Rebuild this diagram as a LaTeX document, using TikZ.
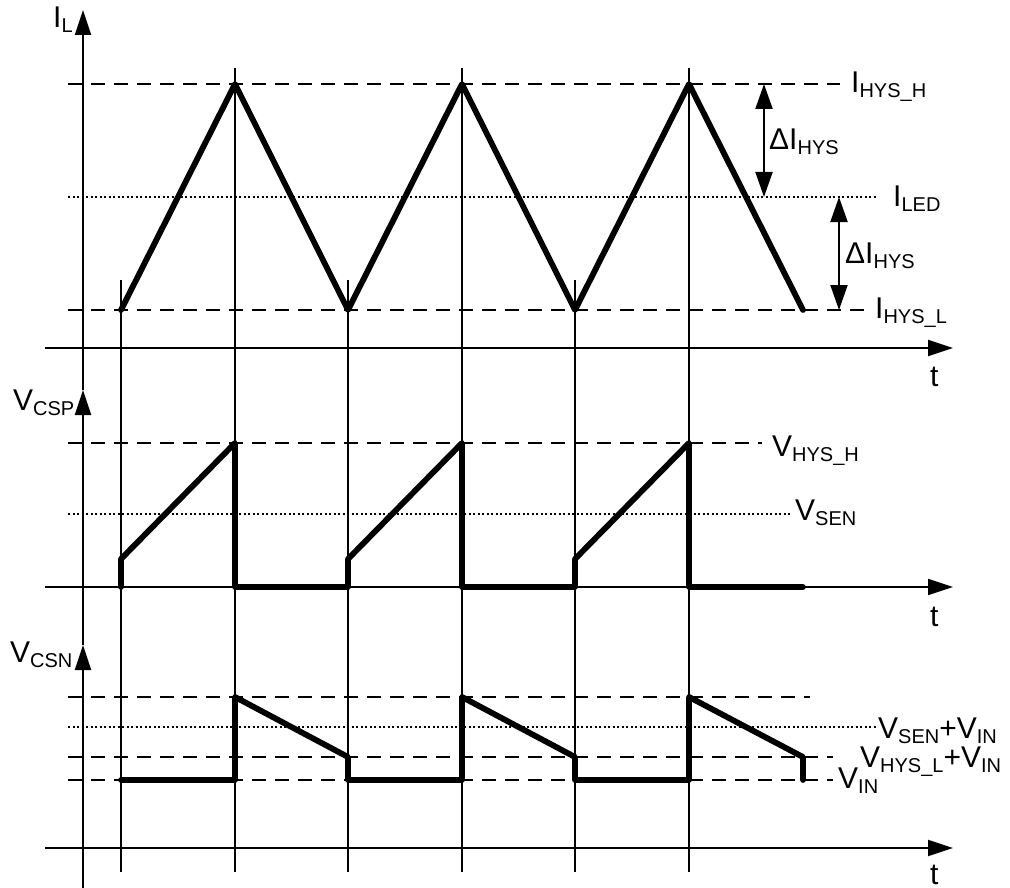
\documentclass[tikz,border=0pt]{standalone}
\usepackage{fontspec}
\setmainfont{Liberation Sans}
\usetikzlibrary{arrows.meta}
\newcommand\lsub[1]{\raisebox{-5pt}{\fontsize{20}{20}\selectfont #1}}
\begin{document}
\begin{tikzpicture}[x=1pt,y=-1pt,
  axis/.style={line width=2.2pt,-{Triangle[length=25pt,width=16pt]}},
  gridline/.style={line width=1.5pt},
  lvl/.style={line width=2pt,dash pattern=on 14pt off 9pt},
  dotl/.style={line width=1.6pt,dash pattern=on 2pt off 2.5pt},
  wave/.style={line width=5.8pt,line join=round,line cap=round},
  lbl/.style={anchor=base west,inner sep=0pt,font=\fontsize{30}{32}\selectfont},
  dimarrow/.style={line width=2pt,{Triangle[length=25pt,width=17pt]}-{Triangle[length=25pt,width=17pt]}}]
\useasboundingbox (0,0) rectangle (1010,888);

% axes coordinates
\coordinate (ilbot) at (83,390);
\coordinate (iltop) at (83,10);
\coordinate (cspbot) at (83,645);
\coordinate (csnbot) at (83,888);
\coordinate (t1a) at (45,348);  \coordinate (t1b) at (953,348);
\coordinate (t2a) at (45,587);  \coordinate (t2b) at (953,587);
\coordinate (t3a) at (45,848);  \coordinate (t3b) at (953,848);

% grid lines
\foreach \x in {121,348,575} \draw[gridline] (\x,280) -- (\x,872);
\foreach \x in {235,462,689} \draw[gridline] (\x,68) -- (\x,872);

% levels
\coordinate (hA) at (68,84);   \coordinate (hB) at (840,84);
\coordinate (ledA) at (68,197); \coordinate (ledB) at (877,197);
\coordinate (lA) at (68,310);  \coordinate (lB) at (865,310);
\draw[lvl] (hA) -- (hB);
\draw[dotl] (ledA) -- (ledB);
\draw[lvl] (lA) -- (lB);
\draw[lvl] (68,443) -- (762,443);
\draw[dotl] (68,514) -- (792,514);
\draw[lvl] (68,697) -- (810,697);
\draw[dotl] (68,727) -- (877,727);
\draw[lvl] (68,757) -- (833,757);
\draw[lvl] (68,780) -- (833,780);

% axes
\draw[axis] (ilbot) -- (iltop);
\draw[axis] (cspbot) -- (ilbot);
\draw[axis] (csnbot) -- (cspbot);
\draw[axis] (t1a) -- (t1b);
\draw[axis] (t2a) -- (t2b);
\draw[axis] (t3a) -- (t3b);

% waveforms
\draw[wave] (121,310) -- (235,84) -- (348,310) -- (462,84) -- (575,310) -- (689,84) -- (803,310);
\draw[wave] (121,587) -- (121,559) -- (235,443) -- (235,587) -- (348,587) -- (348,559) -- (462,443) -- (462,587) -- (575,587) -- (575,559) -- (689,443) -- (689,587) -- (803,587);
\draw[wave] (121,780) -- (235,780) -- (235,697) -- (348,757) -- (348,780) -- (462,780) -- (462,697) -- (575,757) -- (575,780) -- (689,780) -- (689,697) -- (803,757) -- (803,780);

% dimension arrows
\coordinate (d1a) at (764,84);  \coordinate (d1b) at (764,197);
\coordinate (d2a) at (839,197); \coordinate (d2b) at (839,310);
\draw[dimarrow] (d1a) -- (d1b);
\draw[dimarrow] (d2a) -- (d2b);

% labels
\node[lbl] (lIL) at (53,28) {I\lsub{L}};
\node[lbl] (lVCSP) at (13,410) {V\lsub{CSP}};
\node[lbl] (lVCSN) at (10,662) {V\lsub{CSN}};
\node[lbl] (lIH) at (851,93) {I\lsub{HYS\_H}};
\node[lbl] (ldI1) at (769,150) {ΔI\lsub{HYS}};
\node[lbl] (lILED) at (893,207) {I\lsub{LED}};
\node[lbl] (ldI2) at (845,263) {ΔI\lsub{HYS}};
\node[lbl] (lIL2) at (875,318) {I\lsub{HYS\_L}};
\node[lbl] (lt1) at (930,386) {t};
\node[lbl] (lVH) at (772,456) {V\lsub{HYS\_H}};
\node[lbl] (lVS) at (795,520) {V\lsub{SEN}};
\node[lbl] (lt2) at (930,626) {t};
\node[lbl] (lVSI) at (878,738) {V\lsub{SEN}+V\lsub{IN}};
\node[lbl] (lVHI) at (860,767) {V\lsub{HYS\_L}+V\lsub{IN}};
\node[lbl] (lVIN) at (838,788) {V\lsub{IN}};
\node[lbl] (lt3) at (930,884) {t};
\end{tikzpicture}
\end{document}
